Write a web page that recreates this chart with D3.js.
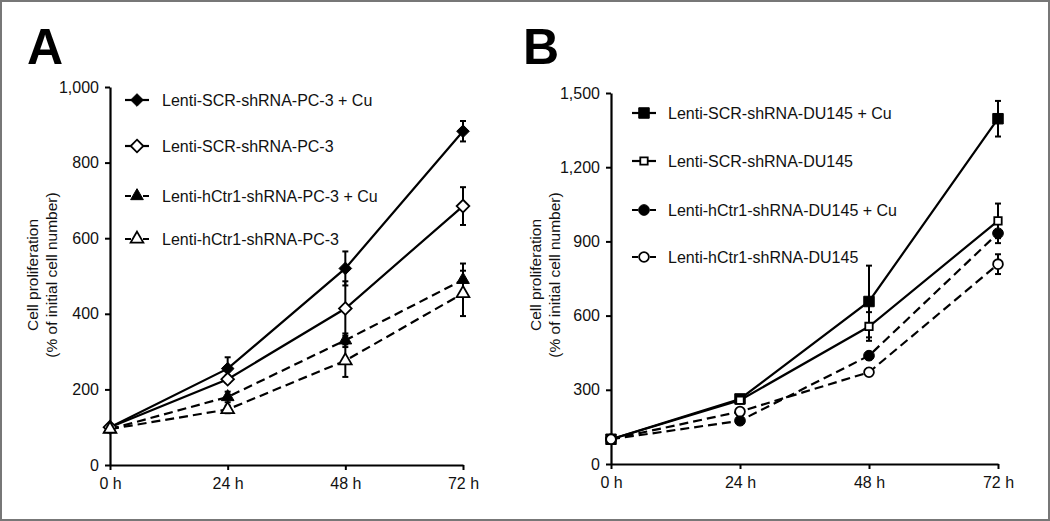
<!DOCTYPE html>
<html><head><meta charset="utf-8">
<script src="https://cdn.jsdelivr.net/npm/d3@7"></script>
<style>body{margin:0;background:#fff}svg{display:block;font-family:"Liberation Sans",Arial,sans-serif}</style>
</head><body>
<svg id="c" width="1050" height="521"></svg>
<script>
const times = [0, 24, 48, 72];
const timeLabels = ["0 h", "24 h", "48 h", "72 h"];

// Panel A (PC-3)
const namesA = ["Lenti-SCR-shRNA-PC-3 + Cu", "Lenti-SCR-shRNA-PC-3", "Lenti-hCtr1-shRNA-PC-3 + Cu", "Lenti-hCtr1-shRNA-PC-3"];
const a1 = [100, 255, 520, 883], a1e = [8, 30, 45, 27];
const a2 = [100, 227, 414, 685], a2e = [8, 10, 72, 50];
const a3 = [95, 180, 330, 490], a3e = [8, 14, 18, 43];
const a4 = [95, 147, 276, 454], a4e = [8, 10, 43, 60];
const ticksA = [0, 200, 400, 600, 800, 1000];

// Panel B (DU145)
const namesB = ["Lenti-SCR-shRNA-DU145 + Cu", "Lenti-SCR-shRNA-DU145", "Lenti-hCtr1-shRNA-DU145 + Cu", "Lenti-hCtr1-shRNA-DU145"];
const b1 = [100, 263, 657, 1396], b1e = [10, 15, 145, 72];
const b2 = [100, 258, 556, 983], b2e = [10, 10, 58, 70];
const b3 = [100, 175, 438, 933], b3e = [10, 12, 15, 40];
const b4 = [100, 212, 371, 808], b4e = [10, 12, 15, 40];
const ticksB = [0, 300, 600, 900, 1200, 1500];

const svg = d3.select("#c");
svg.append("rect").attr("x",1).attr("y",1).attr("width",1048).attr("height",519)
  .attr("fill","#fff").attr("stroke","#777").attr("stroke-width",2);

const diamond = {draw(ctx, size){const r=Math.sqrt(size)/1.414; ctx.moveTo(0,-r);ctx.lineTo(r,0);ctx.lineTo(0,r);ctx.lineTo(-r,0);ctx.closePath();}};

function panel(cfg){
  const x = d3.scaleLinear().domain([0,72]).range(cfg.xr);
  const y = d3.scaleLinear().domain([0,cfg.ymax]).range(cfg.yr);
  const g = svg.append("g");
  g.append("text").attr("x",cfg.letterX).attr("y",64).attr("font-size",50).attr("font-weight","bold").text(cfg.letter);
  const lx = cfg.labX, ly = 275;
  const t = g.append("text").attr("transform",`translate(${lx},${ly}) rotate(-90)`).attr("text-anchor","middle").attr("font-size",15.5).attr("fill","#111");
  t.append("tspan").attr("x",0).attr("dy",0).text("Cell proliferation");
  t.append("tspan").attr("x",0).attr("dy",19).text("(% of initial cell number)");
  const xa = g.append("g").attr("transform",`translate(0,${cfg.yr[0]})`)
    .call(d3.axisBottom(x).tickValues(times).tickFormat((d,i)=>timeLabels[i]).tickSizeInner(5).tickSizeOuter(0).tickPadding(8));
  const ya = g.append("g").attr("transform",`translate(${cfg.xr[0]},0)`)
    .call(d3.axisLeft(y).tickValues(cfg.ticks).tickFormat(d3.format(",")).tickSizeInner(5).tickSizeOuter(0).tickPadding(6));
  [xa,ya].forEach(a=>{
    a.select(".domain").attr("stroke","#000").attr("stroke-width",2.2);
    a.selectAll(".tick line").attr("stroke","#000").attr("stroke-width",2);
    a.selectAll(".tick text").attr("font-size",16).attr("fill","#111").attr("font-family","Liberation Sans, Arial, sans-serif");
  });
  const line = d3.line().x((d,i)=>x(times[i])).y(d=>y(d));
  cfg.series.forEach(s=>{
    s.v.forEach((v,i)=>{
      const e = s.e[i]; const cx = x(times[i]);
      g.append("line").attr("x1",cx).attr("x2",cx).attr("y1",y(v-e)).attr("y2",y(v+e)).attr("stroke","#000").attr("stroke-width",2);
      [v-e,v+e].forEach(w=>g.append("line").attr("x1",cx-3).attr("x2",cx+3).attr("y1",y(w)).attr("y2",y(w)).attr("stroke","#000").attr("stroke-width",2));
    });
  });
  cfg.series.forEach(s=>{
    g.append("path").attr("d",line(s.v)).attr("fill","none").attr("stroke","#000").attr("stroke-width",2.2)
      .attr("stroke-dasharray",s.dash?"9,5":null);
  });
  const sym = s=>d3.symbol().type(s.type).size(s.size)();
  cfg.series.forEach(s=>{
    s.v.forEach((v,i)=>{
      g.append("path").attr("d",sym(s)).attr("transform",`translate(${x(times[i])},${y(v)})`)
        .attr("fill",s.fill?"#000":"#fff").attr("stroke","#000").attr("stroke-width",s.fill?1:1.8);
    });
  });
  cfg.series.forEach((s,i)=>{
    const ly2 = cfg.legY[i];
    g.append("line").attr("x1",cfg.legX).attr("x2",cfg.legX+24).attr("y1",ly2).attr("y2",ly2).attr("stroke","#000").attr("stroke-width",2.2)
      .attr("stroke-dasharray",s.dash?"6,3":null);
    g.append("path").attr("d",sym(s)).attr("transform",`translate(${cfg.legX+12},${ly2})`)
      .attr("fill",s.fill?"#000":"#fff").attr("stroke","#000").attr("stroke-width",s.fill?1:1.8);
    g.append("text").attr("x",cfg.legTX).attr("y",ly2).attr("dy","0.35em").attr("font-size",16).attr("fill","#111").text(s.name);
  });
}

panel({letter:"A", letterX:27, labX:38, xr:[110,463], yr:[465,87], ymax:1000, ticks:ticksA,
  legX:125, legTX:162, legY:[100,146,196,239],
  series:[
    {name:namesA[0], v:a1, e:a1e, type:diamond, size:80, fill:true, dash:false},
    {name:namesA[1], v:a2, e:a2e, type:diamond, size:80, fill:false, dash:false},
    {name:namesA[2], v:a3, e:a3e, type:d3.symbolTriangle, size:70, fill:true, dash:true},
    {name:namesA[3], v:a4, e:a4e, type:d3.symbolTriangle, size:70, fill:false, dash:true}
  ]});
panel({letter:"B", letterX:523, labX:541, xr:[611,998], yr:[464,93], ymax:1500, ticks:ticksB,
  legX:632, legTX:668, legY:[113,161,210,257],
  series:[
    {name:namesB[0], v:b1, e:b1e, type:d3.symbolSquare, size:110, fill:true, dash:false},
    {name:namesB[1], v:b2, e:b2e, type:d3.symbolSquare, size:55, fill:false, dash:false},
    {name:namesB[2], v:b3, e:b3e, type:d3.symbolCircle, size:90, fill:true, dash:true},
    {name:namesB[3], v:b4, e:b4e, type:d3.symbolCircle, size:75, fill:false, dash:true}
  ]});
</script>
</body></html>
